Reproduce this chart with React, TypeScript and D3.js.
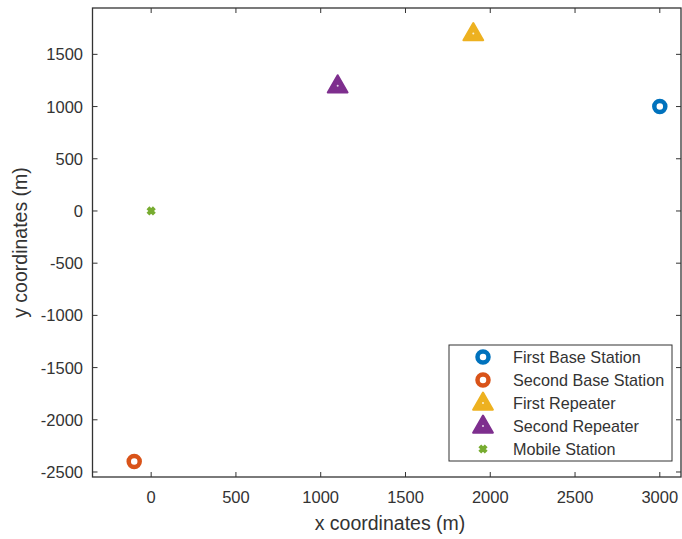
import React, { useRef, useEffect } from "react";
import * as d3 from "d3";

// station names and positions (metres)
const names = ["First Base Station", "Second Base Station", "First Repeater", "Second Repeater", "Mobile Station"];
const xValues = [3000, -100, 1900, 1100, 0];
const yValues = [1000, -2400, 1700, 1200, 0];
const shapes = ["circle", "circle", "triangle", "triangle", "cross"];
const colors = ["#0072BD", "#D95319", "#EDB120", "#7E2F8E", "#77AC30"];

const xTicks = [0, 500, 1000, 1500, 2000, 2500, 3000];
const yTicks = [-2500, -2000, -1500, -1000, -500, 0, 500, 1000, 1500];

const W = 682;
const H = 539;
const FONT = "'Liberation Sans', Arial, sans-serif";
const INK = "#333333";

const App = () => {
    const ref = useRef<SVGSVGElement>(null);

    useEffect(() => {
        const svg = d3.select(ref.current);
        svg.selectAll("*").remove();

        const left = 92.5, right = 681, top = 8, bottom = 477;

        const xScale = d3.scaleLinear().domain([-346, 3125]).range([left, right]);
        const yScale = d3.scaleLinear().domain([-2548, 1944]).range([bottom, top]);

        // ticks, inward on all four sides (box on)
        const tk = 5;
        const g = svg.append("g");
        xTicks.forEach((t) => {
            const x = xScale(t);
            g.append("line").attr("x1", x).attr("x2", x).attr("y1", bottom).attr("y2", bottom - tk);
            g.append("line").attr("x1", x).attr("x2", x).attr("y1", top).attr("y2", top + tk);
        });
        yTicks.forEach((t) => {
            const y = yScale(t);
            g.append("line").attr("x1", left).attr("x2", left + tk).attr("y1", y).attr("y2", y);
            g.append("line").attr("x1", right).attr("x2", right - tk).attr("y1", y).attr("y2", y);
        });
        g.selectAll("line").attr("stroke", INK).attr("stroke-width", 1);

        svg.append("rect")
            .attr("x", left).attr("y", top)
            .attr("width", right - left).attr("height", bottom - top)
            .attr("fill", "none").attr("stroke", INK).attr("stroke-width", 1.3);

        // tick labels
        svg.append("g").selectAll("text")
            .data(xTicks).join("text")
            .attr("x", (d) => xScale(d)).attr("y", 503)
            .attr("text-anchor", "middle")
            .text((d) => d);
        svg.append("g").selectAll("text")
            .data(yTicks).join("text")
            .attr("x", 83).attr("y", (d) => yScale(d) + 6)
            .attr("text-anchor", "end")
            .text((d) => d);

        // axis titles
        svg.append("text")
            .attr("x", 390).attr("y", 530)
            .attr("text-anchor", "middle").style("font-size", "19.5px")
            .text("x coordinates (m)");
        svg.append("text")
            .attr("transform", `translate(27,${(top + bottom) / 2}) rotate(-90)`)
            .attr("text-anchor", "middle").style("font-size", "19.5px")
            .text("y coordinates (m)");

        svg.selectAll("text").attr("fill", INK).style("font-family", FONT);
        svg.selectAll("g text").style("font-size", "16.5px");

        // draw one marker
        const marker = (sel, shape, color) => {
            if (shape === "circle") {
                sel.append("circle").attr("r", 5.5).attr("fill", "white")
                    .attr("stroke", color).attr("stroke-width", 4.5);
            } else if (shape === "triangle") {
                sel.append("path")
                    .attr("d", d3.symbol().type(d3.symbolTriangle).size(170)())
                    .attr("transform", "translate(0,1)")
                    .attr("fill", color).attr("stroke", color).attr("stroke-width", 2)
                    .attr("stroke-linejoin", "round");
                sel.append("circle").attr("r", 1).attr("fill", "white").attr("opacity", 0.8);
            } else {
                sel.append("path")
                    .attr("d", "M-3.2,-3.2L3.2,3.2M-3.2,3.2L3.2,-3.2")
                    .attr("stroke", color).attr("stroke-width", 4);
            }
        };

        names.forEach((n, i) => {
            const p = svg.append("g")
                .attr("transform", `translate(${xScale(xValues[i])},${yScale(yValues[i])})`);
            marker(p, shapes[i], colors[i]);
        });

        // legend
        const lg = svg.append("g").attr("transform", "translate(449,345)");
        lg.append("rect")
            .attr("width", 223).attr("height", 116)
            .attr("fill", "white").attr("stroke", INK).attr("stroke-width", 1);
        names.forEach((n, i) => {
            const row = lg.append("g").attr("transform", `translate(34,${12 + i * 23})`);
            marker(row, shapes[i], colors[i]);
            row.append("text")
                .attr("x", 30).attr("y", 6)
                .attr("fill", INK)
                .style("font-family", FONT).style("font-size", "16.2px")
                .text(n);
        });
    }, []);

    return (
        <svg ref={ref} width={W} height={H}
            style={{ position: "absolute", left: 0, top: 0, background: "white" }} />
    );
};

export default App;
